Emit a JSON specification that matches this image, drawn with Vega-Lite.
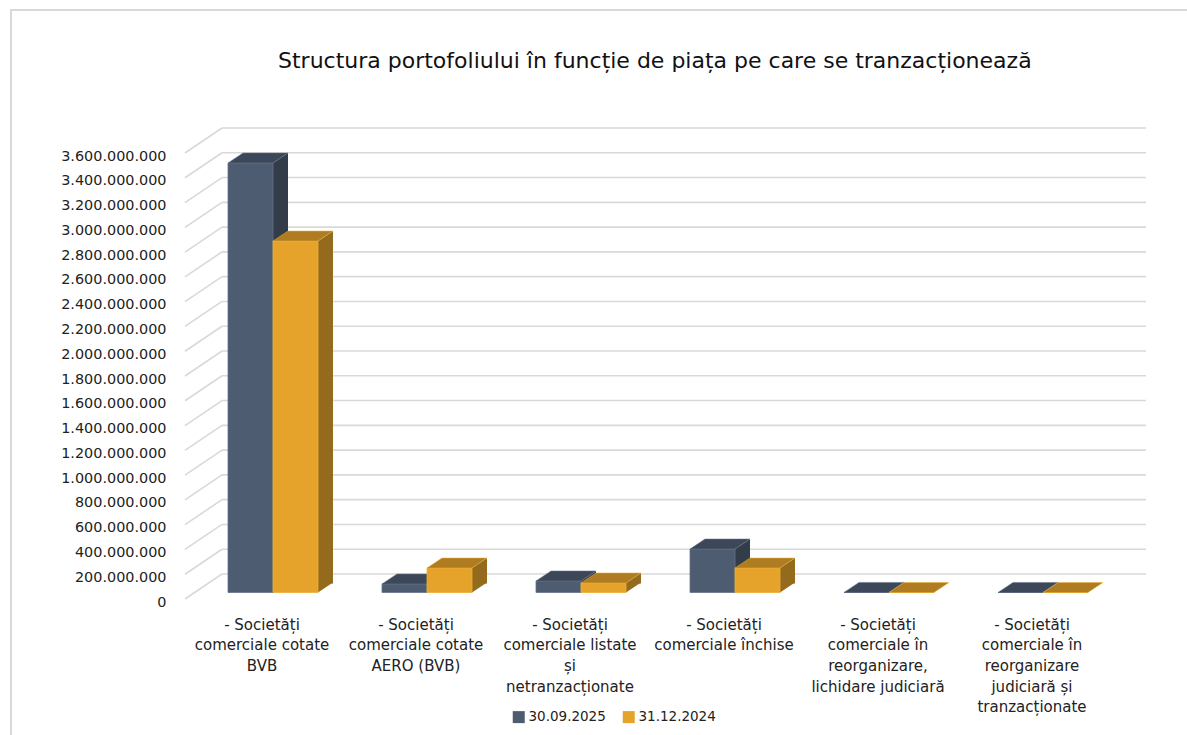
{"$schema":"https://vega.github.io/schema/vega-lite/v6.json","autosize":"none","padding":{"left":11,"top":10,"right":0,"bottom":0},"width":1180,"height":730,"background":"white","config":{"view":{"stroke":"#D9D9D9","strokeWidth":2},"font":"DejaVu Sans"},"title":{"text":"Structura portofoliului în funcție de piața pe care se tranzacționează","font":"DejaVu Sans","fontWeight":"normal","fontSize":22,"color":"#111111","anchor":"start","frame":"group","dx":267,"dy":13,"offset":-60,"baseline":"middle"},"datasets":{"bars":[{"cat":"- Societăți|comerciale cotate|BVB","series":"30.09.2025","value":3467000000},{"cat":"- Societăți|comerciale cotate|BVB","series":"31.12.2024","value":2837000000},{"cat":"- Societăți|comerciale cotate|AERO (BVB)","series":"30.09.2025","value":69000000},{"cat":"- Societăți|comerciale cotate|AERO (BVB)","series":"31.12.2024","value":198000000},{"cat":"- Societăți|comerciale listate|și|netranzacționate","series":"30.09.2025","value":93000000},{"cat":"- Societăți|comerciale listate|și|netranzacționate","series":"31.12.2024","value":77000000},{"cat":"- Societăți|comerciale închise","series":"30.09.2025","value":351000000},{"cat":"- Societăți|comerciale închise","series":"31.12.2024","value":198000000},{"cat":"- Societăți|comerciale în|reorganizare,|lichidare judiciară","series":"30.09.2025","value":1000000},{"cat":"- Societăți|comerciale în|reorganizare,|lichidare judiciară","series":"31.12.2024","value":500000},{"cat":"- Societăți|comerciale în|reorganizare|judiciară și|tranzacționate","series":"30.09.2025","value":500000},{"cat":"- Societăți|comerciale în|reorganizare|judiciară și|tranzacționate","series":"31.12.2024","value":500000}],"ticks":[{"cat":"- Societăți|comerciale cotate|BVB","to":"- Societăți|comerciale în|reorganizare|judiciară și|tranzacționate","value":0},{"cat":"- Societăți|comerciale cotate|BVB","to":"- Societăți|comerciale în|reorganizare|judiciară și|tranzacționate","value":200000000},{"cat":"- Societăți|comerciale cotate|BVB","to":"- Societăți|comerciale în|reorganizare|judiciară și|tranzacționate","value":400000000},{"cat":"- Societăți|comerciale cotate|BVB","to":"- Societăți|comerciale în|reorganizare|judiciară și|tranzacționate","value":600000000},{"cat":"- Societăți|comerciale cotate|BVB","to":"- Societăți|comerciale în|reorganizare|judiciară și|tranzacționate","value":800000000},{"cat":"- Societăți|comerciale cotate|BVB","to":"- Societăți|comerciale în|reorganizare|judiciară și|tranzacționate","value":1000000000},{"cat":"- Societăți|comerciale cotate|BVB","to":"- Societăți|comerciale în|reorganizare|judiciară și|tranzacționate","value":1200000000},{"cat":"- Societăți|comerciale cotate|BVB","to":"- Societăți|comerciale în|reorganizare|judiciară și|tranzacționate","value":1400000000},{"cat":"- Societăți|comerciale cotate|BVB","to":"- Societăți|comerciale în|reorganizare|judiciară și|tranzacționate","value":1600000000},{"cat":"- Societăți|comerciale cotate|BVB","to":"- Societăți|comerciale în|reorganizare|judiciară și|tranzacționate","value":1800000000},{"cat":"- Societăți|comerciale cotate|BVB","to":"- Societăți|comerciale în|reorganizare|judiciară și|tranzacționate","value":2000000000},{"cat":"- Societăți|comerciale cotate|BVB","to":"- Societăți|comerciale în|reorganizare|judiciară și|tranzacționate","value":2200000000},{"cat":"- Societăți|comerciale cotate|BVB","to":"- Societăți|comerciale în|reorganizare|judiciară și|tranzacționate","value":2400000000},{"cat":"- Societăți|comerciale cotate|BVB","to":"- Societăți|comerciale în|reorganizare|judiciară și|tranzacționate","value":2600000000},{"cat":"- Societăți|comerciale cotate|BVB","to":"- Societăți|comerciale în|reorganizare|judiciară și|tranzacționate","value":2800000000},{"cat":"- Societăți|comerciale cotate|BVB","to":"- Societăți|comerciale în|reorganizare|judiciară și|tranzacționate","value":3000000000},{"cat":"- Societăți|comerciale cotate|BVB","to":"- Societăți|comerciale în|reorganizare|judiciară și|tranzacționate","value":3200000000},{"cat":"- Societăți|comerciale cotate|BVB","to":"- Societăți|comerciale în|reorganizare|judiciară și|tranzacționate","value":3400000000},{"cat":"- Societăți|comerciale cotate|BVB","to":"- Societăți|comerciale în|reorganizare|judiciară și|tranzacționate","value":3600000000}]},"encoding":{"x":{"field":"cat","type":"nominal","sort":null,"scale":{"domain":["- Societăți|comerciale cotate|BVB","- Societăți|comerciale cotate|AERO (BVB)","- Societăți|comerciale listate|și|netranzacționate","- Societăți|comerciale închise","- Societăți|comerciale în|reorganizare,|lichidare judiciară","- Societăți|comerciale în|reorganizare|judiciară și|tranzacționate"],"range":[174,1098],"paddingInner":0,"paddingOuter":0},"axis":{"title":null,"orient":"bottom","offset":-123,"domain":false,"ticks":false,"grid":false,"labelAngle":0,"labelPadding":0,"labelAlign":"center","labelBaseline":"top","labelFont":"DejaVu Sans","labelFontSize":15,"labelColor":"#222222","labelLineHeight":20.7,"labelLimit":0,"labelOverlap":false,"labelExpr":"split(datum.value,'|')"}},"y":{"field":"value","type":"quantitative","scale":{"domain":[0,3600000000],"range":[589,143],"nice":false,"zero":true},"axis":{"title":null,"orient":"left","offset":-155,"domain":false,"ticks":false,"grid":false,"labelPadding":0,"labelOffset":3,"labelFont":"DejaVu Sans","labelFontSize":14.4,"labelColor":"#222222","labelOverlap":false,"values":[0,200000000,400000000,600000000,800000000,1000000000,1200000000,1400000000,1600000000,1800000000,2000000000,2200000000,2400000000,2600000000,2800000000,3000000000,3200000000,3400000000,3600000000],"labelExpr":"replace(format(datum.value,','),/,/g,'.')"}}},"layer":[{"data":{"name":"ticks"},"mark":{"type":"rule","stroke":"#D9D9D9","strokeWidth":1.6,"xOffset":-40,"x2Offset":114,"yOffset":-25},"encoding":{"x2":{"field":"to"}}},{"data":{"name":"ticks"},"mark":{"type":"point","shape":"M0 0L37 -25","filled":false,"opacity":1,"stroke":"#D9D9D9","strokeWidth":1.6,"size":4,"xOffset":-77}},{"data":{"name":"bars"},"transform":[{"filter":"datum.series==='30.09.2025' && datum.value>10000000"}],"mark":{"type":"bar","width":15,"color":"#333C49","xOffset":18.5,"yOffset":-6.5,"y2Offset":-15.5},"encoding":{"y2":{"datum":0}}},{"data":{"name":"bars"},"transform":[{"filter":"datum.series==='30.09.2025' && datum.value>10000000"}],"mark":{"type":"point","shape":"M0 0L15 -10L15 0Z","filled":true,"opacity":1,"color":"#333C49","size":4,"xOffset":11,"yOffset":-6.5}},{"data":{"name":"bars"},"transform":[{"filter":"datum.series==='30.09.2025' && datum.value>10000000"}],"mark":{"type":"point","shape":"M0 0L0 -10L15 -10Z","filled":true,"opacity":1,"color":"#333C49","size":4,"xOffset":11,"yOffset":-6.5},"encoding":{"y":{"datum":0}}},{"data":{"name":"bars"},"transform":[{"filter":"datum.series==='30.09.2025'"}],"mark":{"type":"bar","width":45,"stroke":"#64728A","strokeWidth":0.8,"xOffset":-11.5,"yOffset":-6.5,"y2Offset":-6.5},"encoding":{"y2":{"datum":0},"color":{"field":"series","type":"nominal","scale":{"domain":["30.09.2025","31.12.2024"],"range":["#4D5C71","#E5A32C"]},"legend":{"title":null,"orient":"none","legendX":501,"legendY":700,"direction":"horizontal","columns":2,"symbolType":"square","symbolSize":144,"symbolStrokeWidth":0,"labelFont":"DejaVu Sans","labelFontSize":13.5,"labelColor":"#222222","columnPadding":16,"labelOffset":3}}}},{"data":{"name":"bars"},"transform":[{"filter":"datum.series==='30.09.2025'"}],"mark":{"type":"point","shape":"M0 0L45 0L60 -10L15 -10Z","filled":true,"opacity":1,"color":"#3C4859","stroke":"#64728A","strokeWidth":0.5,"size":4,"xOffset":-34,"yOffset":-6.5}},{"data":{"name":"bars"},"transform":[{"filter":"datum.series==='31.12.2024' && datum.value>10000000"}],"mark":{"type":"bar","width":15,"color":"#946B1D","xOffset":63.5,"yOffset":-6.5,"y2Offset":-15.5},"encoding":{"y2":{"datum":0}}},{"data":{"name":"bars"},"transform":[{"filter":"datum.series==='31.12.2024' && datum.value>10000000"}],"mark":{"type":"point","shape":"M0 0L15 -10L15 0Z","filled":true,"opacity":1,"color":"#946B1D","size":4,"xOffset":56,"yOffset":-6.5}},{"data":{"name":"bars"},"transform":[{"filter":"datum.series==='31.12.2024' && datum.value>10000000"}],"mark":{"type":"point","shape":"M0 0L0 -10L15 -10Z","filled":true,"opacity":1,"color":"#946B1D","size":4,"xOffset":56,"yOffset":-6.5},"encoding":{"y":{"datum":0}}},{"data":{"name":"bars"},"transform":[{"filter":"datum.series==='31.12.2024'"}],"mark":{"type":"bar","width":45,"stroke":"#EDAE32","strokeWidth":0.8,"xOffset":33.5,"yOffset":-6.5,"y2Offset":-6.5},"encoding":{"y2":{"datum":0},"color":{"field":"series","type":"nominal"}}},{"data":{"name":"bars"},"transform":[{"filter":"datum.series==='31.12.2024'"}],"mark":{"type":"point","shape":"M0 0L45 0L60 -10L15 -10Z","filled":true,"opacity":1,"color":"#AF7C22","stroke":"#EDAE32","strokeWidth":0.5,"size":4,"xOffset":11,"yOffset":-6.5}}]}
